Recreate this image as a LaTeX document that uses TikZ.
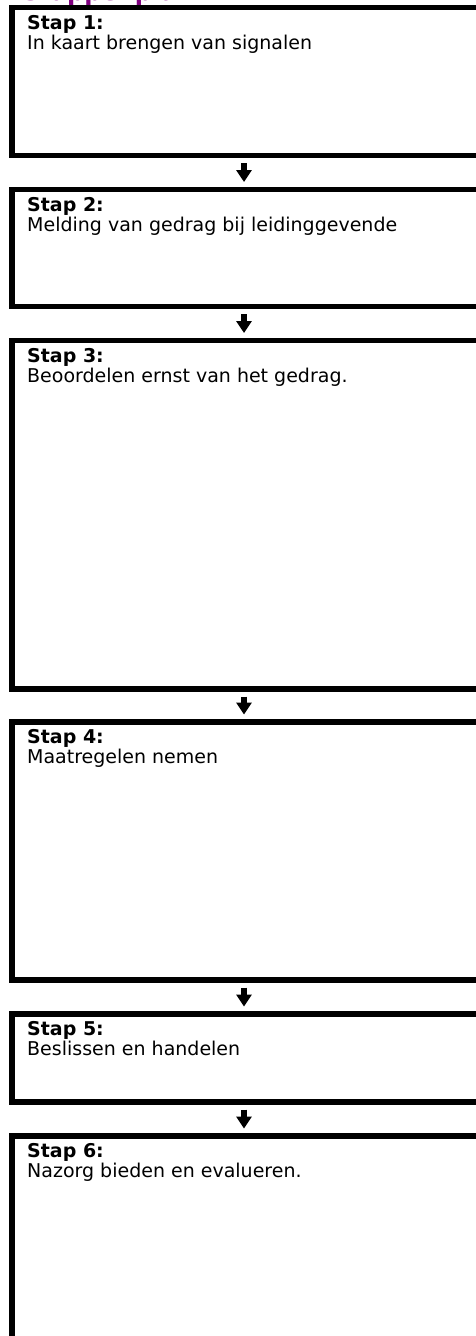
\documentclass[tikz,border=0pt]{standalone}
\usepackage{fontspec}
\setmainfont{DejaVu Sans}
\usetikzlibrary{positioning,arrows.meta}
\definecolor{planpurple}{RGB}{128,0,128}
\tikzset{
  stepbox/.style={draw,line width=5.5pt,fill=white,minimum width=470pt,outer sep=0pt,inner sep=0pt},
  steptext/.style={inner sep=0pt,align=left,font=\fontsize{19}{20}\selectfont},
  stepflow/.style={line width=5.5pt,-{Triangle[length=12pt,width=15pt]},shorten <=7.5pt,shorten >=7.5pt}
}
\begin{document}
\begin{tikzpicture}[x=1pt,y=-1pt]
\useasboundingbox (0,0) rectangle (475,1336);
\node[anchor=base west,inner sep=0pt,text=planpurple,font=\bfseries\fontsize{24}{24}\selectfont] (title) at (22,0) {Stappenplan};
\node[stepbox,minimum height=148pt,anchor=north west] (b1) at (12,7.5) {};
\node[stepbox,minimum height=117pt,below=34pt of b1] (b2) {};
\node[stepbox,minimum height=348.5pt,below=34pt of b2] (b3) {};
\node[stepbox,minimum height=258pt,below=33pt of b3] (b4) {};
\node[stepbox,minimum height=88pt,below=34pt of b4] (b5) {};
\node[stepbox,minimum height=260pt,below=34pt of b5] (b6) {};
\node[steptext,below right=7.6pt and 15pt of b1.north west] (t1) {\textbf{Stap 1:}\\In kaart brengen van signalen};
\node[steptext,below right=7.6pt and 15pt of b2.north west] (t2) {\textbf{Stap 2:}\\Melding van gedrag bij leidinggevende};
\node[steptext,below right=7.6pt and 15pt of b3.north west] (t3) {\textbf{Stap 3:}\\Beoordelen ernst van het gedrag.};
\node[steptext,below right=7.6pt and 15pt of b4.north west] (t4) {\textbf{Stap 4:}\\Maatregelen nemen};
\node[steptext,below right=7.6pt and 15pt of b5.north west] (t5) {\textbf{Stap 5:}\\Beslissen en handelen};
\node[steptext,below right=7.6pt and 15pt of b6.north west] (t6) {\textbf{Stap 6:}\\Nazorg bieden en evalueren.};
\draw[stepflow] ([xshift=-3pt]b1.south) -- ([xshift=-3pt]b2.north);
\draw[stepflow] ([xshift=-3pt]b2.south) -- ([xshift=-3pt]b3.north);
\draw[stepflow] ([xshift=-3pt]b3.south) -- ([xshift=-3pt]b4.north);
\draw[stepflow] ([xshift=-3pt]b4.south) -- ([xshift=-3pt]b5.north);
\draw[stepflow] ([xshift=-3pt]b5.south) -- ([xshift=-3pt]b6.north);
\end{tikzpicture}
\end{document}
